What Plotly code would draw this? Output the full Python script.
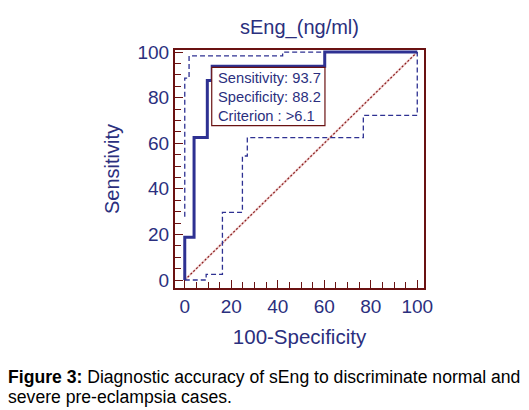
import plotly.graph_objects as go

# ROC curve (100-Specificity, Sensitivity)
roc_x = [0, 0, 4.0, 4.0, 9.7, 9.7, 11.8, 11.8, 60.2, 60.2, 100]
roc_y = [0, 18.75, 18.75, 62.5, 62.5, 87.5, 87.5, 93.75, 93.75, 100, 100]

# Upper confidence bound
up_x = [0, 0, 1.85, 1.85, 42.1, 42.1, 100]
up_y = [27.8, 88.6, 88.6, 98.3, 98.3, 100, 100]

# Lower confidence bound
lo_x = [0, 9.2, 9.2, 16.2, 16.2, 24.8, 24.8, 26.9, 26.9, 76.8, 76.8, 100, 100]
lo_y = [0, 0, 2.5, 2.5, 29.7, 29.7, 54.4, 54.4, 62.5, 62.5, 72.2, 72.2, 100]

diag_x = [0, 100]
diag_y = [0, 100]

x_ticks = [0, 20, 40, 60, 80, 100]
y_ticks = [0, 20, 40, 60, 80, 100]

title_text = "sEng_(ng/ml)"
x_title = "100-Specificity"
y_title = "Sensitivity"
box_lines = ["Sensitivity: 93.7", "Specificity: 88.2", "Criterion : >6.1"]
caption_lines = ["<b>Figure 3:</b> Diagnostic accuracy of sEng to discriminate normal and",
                 "severe pre-eclampsia cases."]

NAVY = "#2b2f7e"
LINE = "#2e3192"
FRAME = "#6a1212"
FONT = "Liberation Sans, Arial, sans-serif"

# page body has an 8px margin; layout is expressed in figure coordinates
L, T, PW, PH = 167, 42, 249, 238

fig = go.Figure()
fig.add_trace(go.Scatter(x=diag_x, y=diag_y, mode="lines",
                         line=dict(color="#f0d4d4", width=2.2), hoverinfo="skip"))
fig.add_trace(go.Scatter(x=diag_x, y=diag_y, mode="lines",
                         line=dict(color="#8a1c1c", width=1.2, dash="2px,2px")))
fig.add_trace(go.Scatter(x=up_x, y=up_y, mode="lines",
                         line=dict(color=LINE, width=1.3, dash="5px,3px")))
fig.add_trace(go.Scatter(x=lo_x, y=lo_y, mode="lines",
                         line=dict(color=LINE, width=1.3, dash="5px,3px")))
fig.add_trace(go.Scatter(x=roc_x, y=roc_y, mode="lines",
                         line=dict(color=LINE, width=3)))

# Criterion box
fig.add_shape(type="rect", x0=11.6, x1=60.3, y0=67.7, y1=93.3,
              xref="x", yref="y", line=dict(color=FRAME, width=1.2),
              fillcolor="white", layer="above")
fig.add_annotation(x=13.3, y=80.5, xref="x", yref="y", xanchor="left", yanchor="middle",
                   text="<br>".join(box_lines), showarrow=False, align="left",
                   font=dict(family=FONT, size=14.7, color=NAVY))

for i, line in enumerate(caption_lines):
    cy = 369 + 20 * i
    fig.add_annotation(x=(-2 - L) / PW, y=(T + PH - cy) / PH, xref="paper", yref="paper",
                       xanchor="left", yanchor="middle", text=line, showarrow=False,
                       align="left", font=dict(family=FONT, size=17.6, color="black"))

axis_common = dict(showgrid=False, zeroline=False, showline=True, mirror=True,
                   linecolor=FRAME, linewidth=2, ticks="inside", ticklen=8,
                   tickcolor=FRAME, tickwidth=1.3,
                   tickfont=dict(family=FONT, size=19, color=NAVY),
                   minor=dict(dtick=5, ticks="inside", ticklen=6, tickcolor=FRAME, tickwidth=1))

fig.update_layout(
    width=529, height=410,
    margin=dict(l=L, r=529 - L - PW, t=T, b=410 - T - PH),
    paper_bgcolor="white", plot_bgcolor="white",
    showlegend=False,
    title=dict(text=title_text, x=0.5, xref="paper", xanchor="center", y=1 - 19 / 410,
               yanchor="middle", font=dict(family=FONT, size=20, color=NAVY)),
    xaxis=dict(range=[-4.2, 102.9], tickvals=x_ticks,
               title=dict(text=x_title, font=dict(family=FONT, size=20.5, color=NAVY), standoff=14),
               **axis_common),
    yaxis=dict(range=[-3.5, 100.9], tickvals=y_ticks,
               title=dict(text=y_title, font=dict(family=FONT, size=20, color=NAVY), standoff=12),
               **axis_common),
)

fig.write_html("out.html")
